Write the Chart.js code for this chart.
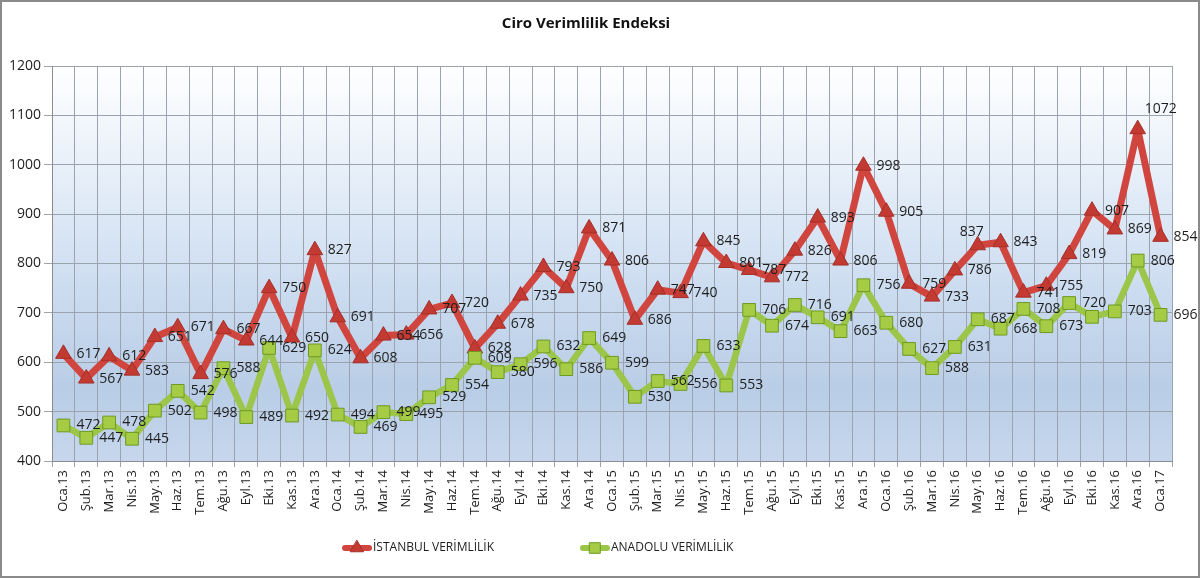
<!DOCTYPE html>
<html>
<head>
<meta charset="utf-8">
<script src="https://cdn.jsdelivr.net/npm/chart.js@4.4.1/dist/chart.umd.min.js"></script>
<style>
  html, body { margin: 0; padding: 0; background: #fff; }
  #wrap { width: 1200px; height: 578px; position: relative; }
</style>
</head>
<body>
<div id="wrap"><canvas id="chart"></canvas></div>
<script>
// months Oca.13 .. Oca.17
const months = [
  'Oca.13', 'Şub.13', 'Mar.13', 'Nis.13', 'May.13', 'Haz.13', 'Tem.13', 'Ağu.13', 'Eyl.13', 'Eki.13', 'Kas.13', 'Ara.13',
  'Oca.14', 'Şub.14', 'Mar.14', 'Nis.14', 'May.14', 'Haz.14', 'Tem.14', 'Ağu.14', 'Eyl.14', 'Eki.14', 'Kas.14', 'Ara.14',
  'Oca.15', 'Şub.15', 'Mar.15', 'Nis.15', 'May.15', 'Haz.15', 'Tem.15', 'Ağu.15', 'Eyl.15', 'Eki.15', 'Kas.15', 'Ara.15',
  'Oca.16', 'Şub.16', 'Mar.16', 'Nis.16', 'May.16', 'Haz.16', 'Tem.16', 'Ağu.16', 'Eyl.16', 'Eki.16', 'Kas.16', 'Ara.16',
  'Oca.17'
];

const istanbul = [
  617, 567, 612, 583, 651, 671, 576, 667, 644, 750, 650, 827,
  691, 608, 654, 656, 707, 720, 628, 678, 735, 793, 750, 871,
  806, 686, 747, 740, 845, 801, 787, 772, 826, 893, 806, 998,
  905, 759, 733, 786, 837, 843, 741, 755, 819, 907, 869, 1072,
  854
];

const anadolu = [
  472, 447, 478, 445, 502, 542, 498, 588, 489, 629, 492, 624,
  494, 469, 499, 495, 529, 554, 609, 580, 596, 632, 586, 649,
  599, 530, 562, 556, 633, 553, 706, 674, 716, 691, 663, 756,
  680, 627, 588, 631, 687, 668, 708, 673, 720, 692, 703, 806,
  696
];

const yTicks = [400, 500, 600, 700, 800, 900, 1000, 1100, 1200];

// the Eki.16 Anadolu value has no label in the original
const hiddenAnadoluLabels = ['Eki.16'];

const FONT = '"Open Sans", "DejaVu Sans", sans-serif';
const TEXT = '#1e1e1e';
const GRID = '#9ba4ae';

// a few labels were moved by hand in the source chart
const labelNudge = {
  0: { 'May.16': [-31, -13], 'Ara.16': [-6, -20] }
};

const frameAndBackground = {
  id: 'frameAndBackground',
  beforeDraw(chart) {
    const { ctx, chartArea: a, width, height } = chart;
    ctx.save();
    ctx.fillStyle = '#fff';
    ctx.fillRect(0, 0, width, height);
    const g = ctx.createLinearGradient(0, a.top, 0, a.bottom);
    g.addColorStop(0, '#ffffff');
    g.addColorStop(0.3, '#e4edf8');
    g.addColorStop(0.6, '#c9daef');
    g.addColorStop(0.82, '#b9cde6');
    g.addColorStop(1, '#c6d7ed');
    ctx.fillStyle = g;
    ctx.fillRect(a.left, a.top, a.right - a.left, a.bottom - a.top);
    ctx.restore();
  },
  afterDraw(chart) {
    const { ctx, width, height } = chart;
    ctx.save();
    // legend: line + marker + text
    const y = 548;
    const starts = [342, 580];
    chart.data.datasets.forEach((ds, i) => {
      const x0 = starts[i];
      ctx.strokeStyle = ds.borderColor;
      ctx.lineWidth = 6;
      ctx.lineCap = 'round';
      ctx.beginPath();
      ctx.moveTo(x0 + 3, y);
      ctx.lineTo(x0 + 27, y);
      ctx.stroke();
      ctx.fillStyle = ds.pointBackgroundColor;
      ctx.strokeStyle = ds.pointBorderColor;
      ctx.lineWidth = 1;
      Chart.helpers.drawPoint(ctx, {
        pointStyle: ds.pointStyle,
        radius: ds.pointRadius - 1.5,
        rotation: 0,
        borderWidth: 1
      }, x0 + 15, y);
      ctx.fillStyle = TEXT;
      ctx.font = '12px ' + FONT;
      ctx.textBaseline = 'middle';
      ctx.fillText(ds.label, x0 + 31, y);
    });
    // outer frame
    ctx.strokeStyle = '#8a8a8a';
    ctx.lineWidth = 2;
    ctx.strokeRect(1, 1, width - 2, height - 2);
    ctx.restore();
  }
};

const valueLabels = {
  id: 'valueLabels',
  afterDatasetsDraw(chart) {
    const { ctx } = chart;
    ctx.save();
    ctx.font = '14px ' + FONT;
    ctx.fillStyle = TEXT;
    ctx.textBaseline = 'middle';
    chart.data.datasets.forEach((ds, i) => {
      const meta = chart.getDatasetMeta(i);
      meta.data.forEach((pt, j) => {
        const m = months[j];
        if (ds.hiddenLabels && ds.hiddenLabels.includes(m)) return;
        const n = (labelNudge[i] && labelNudge[i][m]) || [0, 0];
        ctx.fillText(String(ds.data[j]), pt.x + 13 + n[0], pt.y + n[1]);
      });
    });
    ctx.restore();
  }
};

new Chart(document.getElementById('chart'), {
  type: 'line',
  data: {
    labels: months,
    datasets: [
      {
        label: 'İSTANBUL VERİMLİLİK',
        data: istanbul,
        borderColor: '#d0463f',
        borderWidth: 7,
        borderJoinStyle: 'round',
        borderCapStyle: 'round',
        pointStyle: 'triangle',
        pointRadius: 9,
        pointBackgroundColor: '#c33a32',
        pointBorderColor: '#a52f28',
        pointBorderWidth: 1,
        tension: 0,
        order: 1
      },
      {
        label: 'ANADOLU VERİMLİLİK',
        data: anadolu,
        hiddenLabels: hiddenAnadoluLabels,
        borderColor: '#9cc649',
        borderWidth: 6.5,
        borderJoinStyle: 'round',
        borderCapStyle: 'round',
        pointStyle: 'rect',
        pointRadius: 9,
        pointBackgroundColor: '#a6cb45',
        pointBorderColor: '#6f9a22',
        pointBorderWidth: 1,
        tension: 0,
        order: 0
      }
    ]
  },
  options: {
    responsive: true,
    maintainAspectRatio: false,
    animation: false,
    layout: { padding: { top: 0, right: 28, bottom: 50, left: 0 } },
    plugins: {
      legend: { display: false },
      tooltip: { enabled: false },
      title: {
        display: true,
        text: 'Ciro Verimlilik Endeksi',
        color: '#111',
        font: { family: FONT, size: 15, weight: 'bold' },
        padding: { top: 15, bottom: 33 }
      }
    },
    scales: {
      x: {
        offset: true,
        grid: { offset: true, color: GRID, lineWidth: 1, tickLength: 6 },
        border: { color: '#8c8c8c' },
        ticks: {
          autoSkip: false,
          minRotation: 90,
          maxRotation: 90,
          padding: 3,
          color: TEXT,
          font: { family: FONT, size: 13 }
        },
        afterFit(s) { s.height = 67; }
      },
      y: {
        min: yTicks[0],
        max: yTicks[yTicks.length - 1],
        afterBuildTicks(s) { s.ticks = yTicks.map(v => ({ value: v })); },
        grid: { color: GRID, lineWidth: 1, tickLength: 8 },
        border: { color: '#8c8c8c' },
        ticks: {
          padding: 3,
          color: TEXT,
          font: { family: FONT, size: 14 },
          callback: v => String(v)
        },
        afterFit(s) { s.width = 52; }
      }
    }
  },
  plugins: [frameAndBackground, valueLabels]
});
</script>
</body>
</html>
